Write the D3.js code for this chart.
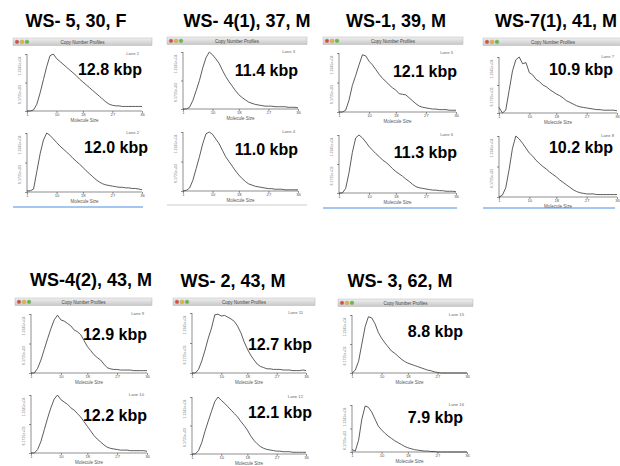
<!DOCTYPE html>
<html>
<head>
<meta charset="utf-8">
<script src="https://cdn.jsdelivr.net/npm/d3@7"></script>
<style>
  body { margin: 0; background: #fff; }
  svg { font-family: "Liberation Sans", Arial, sans-serif; }
  .axis path, .axis line { stroke: #444; stroke-width: 0.6; }
  .axis text { font-size: 4.2px; fill: #555; }
</style>
</head>
<body>
<div class="chart"></div>
<script>
// sample titles (id, age, sex)
const titles = ['WS- 5, 30, F', 'WS- 4(1), 37, M', 'WS-1, 39, M', 'WS-7(1), 41, M',
                'WS-4(2), 43, M', 'WS- 2, 43, M', 'WS- 3, 62, M'];
// lane numbers, two per sample
const lanes = [[1, 2], [3, 4], [5, 6], [7, 8], [9, 10], [11, 12], [15, 16]];
// mean molecule size per lane
const kbp = [[12.8, 12.0], [11.4, 11.0], [12.1, 11.3], [10.9, 10.2], [12.9, 12.2], [12.7, 12.1], [8.8, 7.9]];
const xTicks = [1, 10, 18, 27, 36];
const sizes = [1,2,3,4,5,6,7,8,9,10,11,12,13,14,15,16,17,18,19,20,21,22,23,24,25,26,27,28,29,30,31,32,33,34,35,36];

// copy number profiles, relative to peak, read at each molecule size
const lane1  = [0,0,0.02,0.12,0.32,0.55,0.78,0.97,1.0,0.92,0.87,0.82,0.77,0.72,0.67,0.62,0.56,0.51,0.46,0.41,0.36,0.31,0.26,0.21,0.16,0.12,0.1,0.09,0.09,0.08,0.08,0.08,0.08,0.08,0.08,0.08];
const lane2  = [0.02,0.02,0.05,0.35,0.65,0.88,1.0,0.96,0.9,0.84,0.78,0.73,0.68,0.63,0.57,0.52,0.47,0.42,0.36,0.31,0.26,0.21,0.17,0.14,0.12,0.11,0.1,0.09,0.08,0.08,0.07,0.07,0.06,0.06,0.05,0.04];
const lane3  = [0,0,0.03,0.15,0.32,0.5,0.72,0.9,1.0,0.95,0.88,0.8,0.68,0.57,0.48,0.4,0.32,0.25,0.2,0.16,0.12,0.1,0.08,0.07,0.06,0.05,0.05,0.05,0.04,0.04,0.04,0.04,0.03,0.03,0.03,0.02];
const lane4  = [0,0.01,0.05,0.18,0.38,0.58,0.8,0.97,1.0,0.96,0.88,0.8,0.69,0.58,0.5,0.42,0.34,0.27,0.21,0.16,0.12,0.1,0.08,0.07,0.06,0.05,0.04,0.04,0.03,0.03,0.03,0.02,0.02,0.02,0.02,0.02];
const lane5  = [0,0,0.03,0.2,0.45,0.62,0.8,0.97,0.95,0.86,0.8,0.72,0.64,0.57,0.52,0.46,0.41,0.37,0.31,0.3,0.29,0.24,0.19,0.14,0.1,0.08,0.07,0.06,0.05,0.05,0.04,0.04,0.04,0.03,0.03,0.03];
const lane6  = [0,0,0.08,0.35,0.7,0.95,1.0,0.95,0.88,0.8,0.74,0.68,0.63,0.57,0.53,0.48,0.42,0.37,0.33,0.29,0.24,0.2,0.15,0.11,0.09,0.08,0.07,0.06,0.05,0.05,0.04,0.04,0.03,0.03,0.03,0.02];
const lane7  = [0.1,0,0.05,0.4,0.75,0.95,1.0,0.88,0.9,0.72,0.68,0.6,0.56,0.5,0.47,0.42,0.38,0.34,0.31,0.27,0.22,0.19,0.16,0.13,0.11,0.1,0.09,0.08,0.07,0.06,0.06,0.05,0.05,0.05,0.05,0.04];
const lane8  = [0,0.03,0.15,0.45,0.8,1.0,0.95,0.88,0.8,0.72,0.67,0.6,0.55,0.5,0.46,0.41,0.37,0.33,0.28,0.24,0.2,0.16,0.12,0.09,0.07,0.06,0.05,0.05,0.05,0.04,0.04,0.04,0.04,0.04,0.04,0.04];
const lane9  = [0,0,0.08,0.22,0.4,0.58,0.75,0.9,0.98,0.9,0.88,0.84,0.8,0.73,0.7,0.65,0.55,0.45,0.38,0.31,0.26,0.22,0.15,0.09,0.07,0.06,0.06,0.05,0.05,0.05,0.05,0.04,0.04,0.04,0.04,0.04];
const lane10 = [0,0,0.06,0.2,0.4,0.6,0.78,0.93,1.0,0.92,0.88,0.84,0.78,0.74,0.68,0.62,0.54,0.46,0.38,0.3,0.24,0.19,0.14,0.1,0.08,0.07,0.06,0.05,0.05,0.05,0.04,0.04,0.04,0.04,0.04,0.03];
const lane11 = [0,0,0.06,0.2,0.38,0.58,0.75,0.97,0.98,0.95,0.96,0.93,0.9,0.86,0.78,0.67,0.52,0.4,0.3,0.22,0.15,0.11,0.09,0.07,0.07,0.06,0.06,0.06,0.05,0.05,0.05,0.04,0.04,0.04,0.05,0.04];
const lane12 = [0,0,0.06,0.2,0.4,0.58,0.75,0.92,1.0,0.94,0.89,0.83,0.77,0.71,0.65,0.57,0.5,0.42,0.32,0.24,0.18,0.13,0.1,0.08,0.07,0.06,0.05,0.05,0.04,0.04,0.04,0.03,0.03,0.03,0.03,0.03];
const lane15 = [0,0.05,0.2,0.5,0.8,0.97,0.95,0.85,0.7,0.6,0.52,0.45,0.38,0.34,0.29,0.24,0.2,0.17,0.15,0.13,0.11,0.09,0.07,0.05,0.04,0.02,0.01,0,0,0,0,0,0,0,0,0];
const lane16 = [0.05,0.02,0.25,0.7,0.98,0.95,0.85,0.7,0.55,0.47,0.4,0.34,0.29,0.24,0.2,0.16,0.12,0.09,0.07,0.05,0.04,0.03,0.02,0.02,0.01,0.01,0,0,0,0,0,0,0,0,0,0];
const profiles = [[lane1, lane2], [lane3, lane4], [lane5, lane6], [lane7, lane8], [lane9, lane10], [lane11, lane12], [lane15, lane16]];

// screenshot placement of each window
const layout = [
  {cx: 76,  ty: 27,  bar: [13, 38, 139],  x0: 27,  x1: 142, plots: [[54, 111], [133, 192]], lab: [[142, 75], [148, 153]], rule: [13, 143, 207, '#4a90e2']},
  {cx: 247, ty: 27,  bar: [167, 37, 140], x0: 183, x1: 298, plots: [[52, 109], [132, 191]], lab: [[298, 76], [298, 155]], rule: [167, 307, 205, '#ccc']},
  {cx: 396, ty: 27,  bar: [323, 37, 140], x0: 339, x1: 456, plots: [[53, 112], [135, 193]], lab: [[457, 77], [457, 158]], rule: [323, 457, 208, '#4a90e2']},
  {cx: 556, ty: 27,  bar: [483, 38, 140], x0: 499, x1: 617, plots: [[57, 113], [136, 197]], lab: [[613, 75], [613, 153]], rule: [483, 615, 208, '#4a90e2']},
  {cx: 91,  ty: 286, bar: [15, 298, 137], x0: 31,  x1: 147, plots: [[314, 373], [395, 453]], lab: [[147, 340], [147, 421]]},
  {cx: 233, ty: 287, bar: [173, 298, 142], x0: 192, x1: 306, plots: [[313, 373], [397, 454]], lab: [[312, 350], [312, 418]]},
  {cx: 400, ty: 287, bar: [338, 299, 135], x0: 352, x1: 467, plots: [[315, 373], [405, 452]], lab: [[463, 337], [463, 423]]}
];

const svg = d3.select('.chart').append('svg')
  .attr('width', 620)
  .attr('height', 466);

const grad = svg.append('defs').append('linearGradient')
  .attr('id', 'bar').attr('x1', 0).attr('y1', 0).attr('x2', 0).attr('y2', 1);
grad.append('stop').attr('offset', 0).attr('stop-color', '#f0f0f0');
grad.append('stop').attr('offset', 1).attr('stop-color', '#c8c8c8');

layout.forEach((p, i) => {
  const g = svg.append('g');

  //sample title
  g.append('text')
    .attr('x', p.cx).attr('y', p.ty)
    .attr('text-anchor', 'middle')
    .attr('font-size', 18).attr('font-weight', 'bold')
    .text(titles[i]);

  //window title bar
  const [bx, by, bw] = p.bar;
  g.append('rect')
    .attr('x', bx).attr('y', by).attr('width', bw).attr('height', 7.5)
    .attr('fill', 'url(#bar)').attr('stroke', '#aaa').attr('stroke-width', 0.4);
  ['#e0483e', '#e9b528', '#5fbf3c'].forEach((c, k) => {
    g.append('circle')
      .attr('cx', bx + 4 + k * 5).attr('cy', by + 3.8).attr('r', 1.9)
      .attr('fill', c).attr('stroke', '#888').attr('stroke-width', 0.3);
  });
  g.append('text')
    .attr('x', bx + bw / 2).attr('y', by + 5.6)
    .attr('text-anchor', 'middle').attr('font-size', 4.5).attr('fill', '#444')
    .text('Copy Number Profiles');

  p.plots.forEach(([top, base], j) => {
    const x = d3.scaleLinear().domain([1, 36]).range([p.x0, p.x1]);
    const y = d3.scaleLinear().domain([0, 1]).range([base, top]);

    g.append('g')
      .attr('class', 'axis')
      .attr('transform', `translate(0,${base})`)
      .call(d3.axisBottom(x).tickValues(xTicks).tickSize(2).tickPadding(0.5));
    g.append('g')
      .attr('class', 'axis')
      .attr('transform', `translate(${p.x0},0)`)
      .call(d3.axisLeft(y).tickValues([0, 0.5, 1]).tickFormat('').tickSize(2));
    g.selectAll('.axis path').attr('d', null);
    g.append('line')
      .attr('x1', p.x0).attr('x2', p.x0).attr('y1', top).attr('y2', base)
      .attr('stroke', '#444').attr('stroke-width', 0.6);
    g.append('line')
      .attr('x1', p.x0).attr('x2', p.x1).attr('y1', base).attr('y2', base)
      .attr('stroke', '#444').attr('stroke-width', 0.6);

    //rotated y tick labels
    [[top + 12, '1.2345e+04'], [top + (base - top) / 2 + 12, '6.1725e+03']].forEach(([ly, t]) => {
      g.append('text')
        .attr('transform', `translate(${p.x0 - 6},${ly}) rotate(-90)`)
        .attr('text-anchor', 'middle').attr('font-size', 3.6).attr('fill', '#777')
        .text(t);
    });

    g.append('text')
      .attr('x', (p.x0 + p.x1) / 2).attr('y', base + 11)
      .attr('text-anchor', 'middle').attr('font-size', 4.5).attr('fill', '#555')
      .text('Molecule Size');
    g.append('text')
      .attr('x', p.x1 - 3).attr('y', top + 1)
      .attr('text-anchor', 'end').attr('font-size', 4.2).attr('fill', '#666')
      .text('Lane ' + lanes[i][j]);

    const line = d3.line()
      .x((d, k) => x(sizes[k]))
      .y(d => y(d));
    g.append('path')
      .datum(profiles[i][j])
      .attr('d', line)
      .attr('fill', 'none')
      .attr('stroke', '#333')
      .attr('stroke-width', 0.8);

    //mean size label
    g.append('text')
      .attr('x', p.lab[j][0]).attr('y', p.lab[j][1])
      .attr('text-anchor', 'end')
      .attr('font-size', 16).attr('font-weight', 'bold')
      .text(kbp[i][j].toFixed(1) + ' kbp');
  });

  if (p.rule) {
    g.append('line')
      .attr('x1', p.rule[0]).attr('x2', p.rule[1]).attr('y1', p.rule[2]).attr('y2', p.rule[2])
      .attr('stroke', p.rule[3]).attr('stroke-width', 1.2);
  }
});
</script>
</body>
</html>
